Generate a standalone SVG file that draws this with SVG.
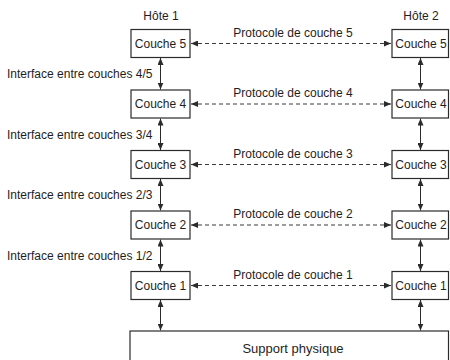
<svg xmlns="http://www.w3.org/2000/svg" width="450" height="360" viewBox="0 0 450 360">
  <style>
    .box { fill: #ffffff; stroke: #2b2b2b; stroke-width: 1.2; }
    .lbl { font-family: "Liberation Sans", Arial, sans-serif; font-size: 12px; fill: #1e1e1e; }
    .mid { text-anchor: middle; }
    .link { stroke: #2b2b2b; stroke-width: 1; fill: none; }
    .dash { stroke: #3a3a3a; stroke-width: 1; stroke-dasharray: 4 3; fill: none; }
  </style>
  <defs>
    <marker id="arrow" markerUnits="userSpaceOnUse" markerWidth="7" markerHeight="6" refX="7" refY="3" orient="auto-start-reverse">
      <path d="M0,0 L7,3 L0,6 z" fill="#2b2b2b"/>
    </marker>
  </defs>
  <rect width="450" height="360" fill="#ffffff"/>

  <!-- host headings -->
  <text class="lbl mid" x="161" y="19.5">Hôte 1</text>
  <text class="lbl mid" x="421" y="19.5">Hôte 2</text>

  <!-- connectors: peer protocols (dashed) and layer interfaces (solid) -->
  <g id="connectors">
    <line class="dash" x1="191" y1="43.5" x2="391" y2="43.5" marker-start="url(#arrow)" marker-end="url(#arrow)"/>
    <line class="dash" x1="191" y1="104" x2="391" y2="104" marker-start="url(#arrow)" marker-end="url(#arrow)"/>
    <line class="dash" x1="191" y1="164.5" x2="391" y2="164.5" marker-start="url(#arrow)" marker-end="url(#arrow)"/>
    <line class="dash" x1="191" y1="225" x2="391" y2="225" marker-start="url(#arrow)" marker-end="url(#arrow)"/>
    <line class="dash" x1="191" y1="285.5" x2="391" y2="285.5" marker-start="url(#arrow)" marker-end="url(#arrow)"/>

    <line class="link" x1="160.5" y1="58" x2="160.5" y2="89.5" marker-start="url(#arrow)" marker-end="url(#arrow)"/>
    <line class="link" x1="160.5" y1="118.5" x2="160.5" y2="150" marker-start="url(#arrow)" marker-end="url(#arrow)"/>
    <line class="link" x1="160.5" y1="179" x2="160.5" y2="210.5" marker-start="url(#arrow)" marker-end="url(#arrow)"/>
    <line class="link" x1="160.5" y1="239.5" x2="160.5" y2="271" marker-start="url(#arrow)" marker-end="url(#arrow)"/>
    <line class="link" x1="160.5" y1="300" x2="160.5" y2="330.5" marker-start="url(#arrow)" marker-end="url(#arrow)"/>

    <line class="link" x1="420.5" y1="58" x2="420.5" y2="89.5" marker-start="url(#arrow)" marker-end="url(#arrow)"/>
    <line class="link" x1="420.5" y1="118.5" x2="420.5" y2="150" marker-start="url(#arrow)" marker-end="url(#arrow)"/>
    <line class="link" x1="420.5" y1="179" x2="420.5" y2="210.5" marker-start="url(#arrow)" marker-end="url(#arrow)"/>
    <line class="link" x1="420.5" y1="239.5" x2="420.5" y2="271" marker-start="url(#arrow)" marker-end="url(#arrow)"/>
    <line class="link" x1="420.5" y1="300" x2="420.5" y2="330.5" marker-start="url(#arrow)" marker-end="url(#arrow)"/>
  </g>

  <!-- connector labels -->
  <g id="labels">
    <text class="lbl mid" x="293" y="36.5">Protocole de couche 5</text>
    <text class="lbl mid" x="293" y="97">Protocole de couche 4</text>
    <text class="lbl mid" x="293" y="157.5">Protocole de couche 3</text>
    <text class="lbl mid" x="293" y="218">Protocole de couche 2</text>
    <text class="lbl mid" x="293" y="278.5">Protocole de couche 1</text>

    <text class="lbl" x="7" y="78">Interface entre couches 4/5</text>
    <text class="lbl" x="7" y="138.5">Interface entre couches 3/4</text>
    <text class="lbl" x="7" y="199">Interface entre couches 2/3</text>
    <text class="lbl" x="7" y="259.5">Interface entre couches 1/2</text>
  </g>

  <!-- host 1 stack -->
  <g id="h1-couche5"><rect class="box" x="131" y="29.5" width="59" height="28"/><text class="lbl mid" x="160.5" y="47.8">Couche 5</text></g>
  <g id="h1-couche4"><rect class="box" x="131" y="90" width="59" height="28"/><text class="lbl mid" x="160.5" y="108.3">Couche 4</text></g>
  <g id="h1-couche3"><rect class="box" x="131" y="150.5" width="59" height="28"/><text class="lbl mid" x="160.5" y="168.8">Couche 3</text></g>
  <g id="h1-couche2"><rect class="box" x="131" y="211" width="59" height="28"/><text class="lbl mid" x="160.5" y="229.3">Couche 2</text></g>
  <g id="h1-couche1"><rect class="box" x="131" y="271.5" width="59" height="28"/><text class="lbl mid" x="160.5" y="289.8">Couche 1</text></g>

  <!-- host 2 stack -->
  <g id="h2-couche5"><rect class="box" x="392" y="29.5" width="56.5" height="28"/><text class="lbl mid" x="421" y="47.8">Couche 5</text></g>
  <g id="h2-couche4"><rect class="box" x="392" y="90" width="56.5" height="28"/><text class="lbl mid" x="421" y="108.3">Couche 4</text></g>
  <g id="h2-couche3"><rect class="box" x="392" y="150.5" width="56.5" height="28"/><text class="lbl mid" x="421" y="168.8">Couche 3</text></g>
  <g id="h2-couche2"><rect class="box" x="392" y="211" width="56.5" height="28"/><text class="lbl mid" x="421" y="229.3">Couche 2</text></g>
  <g id="h2-couche1"><rect class="box" x="392" y="271.5" width="56.5" height="28"/><text class="lbl mid" x="421" y="289.8">Couche 1</text></g>

  <!-- shared physical medium -->
  <g id="support">
    <rect class="box" x="130" y="331" width="318.5" height="40"/>
    <text class="lbl mid" x="293" y="352.5" style="font-size:13px">Support physique</text>
  </g>
</svg>
